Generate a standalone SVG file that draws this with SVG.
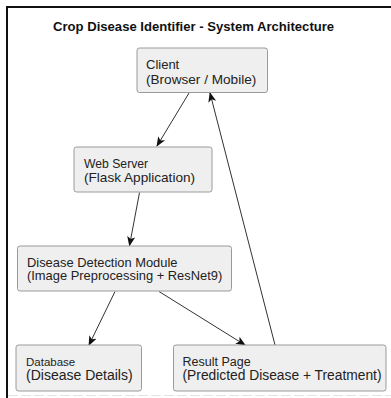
<svg xmlns="http://www.w3.org/2000/svg" width="391" height="398" viewBox="0 0 391 398">
<style>
.node rect{fill:#efefef;stroke:#9a9a9a;stroke-width:1}
.node text{font-family:"Liberation Sans",Arial,sans-serif;fill:#222}
.title{font-family:"Liberation Sans",Arial,sans-serif;font-weight:bold;font-size:13.1px;fill:#111}
.edge{stroke:#333;stroke-width:1;fill:none;marker-end:url(#ah)}
</style>
<defs>
<marker id="ah" viewBox="0 0 10 10" refX="9" refY="5" markerWidth="10" markerHeight="10" markerUnits="userSpaceOnUse" orient="auto">
<path d="M0,1 L10,5 L0,9 L2.5,5 Z" fill="#111"/>
</marker>
</defs>
<rect x="0" y="0" width="391" height="398" fill="#ffffff"/>
<path d="M7,398 V7 H391" fill="none" stroke="#111" stroke-width="2"/>
<line x1="8" y1="395.5" x2="391" y2="395.5" stroke="#e2e2e2" stroke-width="1" stroke-dasharray="10 3"/>
<text class="title" x="53" y="31">Crop Disease Identifier - System Architecture</text>
<g id="connectors">
<line class="edge" x1="189" y1="93" x2="157" y2="146"/>
<line class="edge" x1="139.5" y1="192.5" x2="129.5" y2="245.5"/>
<line class="edge" x1="115" y1="291.5" x2="89" y2="345"/>
<line class="edge" x1="159" y1="291.5" x2="245" y2="345"/>
<line class="edge" x1="275" y1="345" x2="210" y2="93"/>
</g>
<g id="client" class="node">
<rect x="137" y="48" width="130.5" height="44.5" rx="2.5"/>
<text x="146" y="69" font-size="13">Client</text>
<text x="146" y="83.5" font-size="13.6">(Browser / Mobile)</text>
</g>
<g id="webserver" class="node">
<rect x="74" y="147" width="138" height="45" rx="2.5"/>
<text x="84" y="167.5" font-size="12.2">Web Server</text>
<text x="84" y="182" font-size="13.6">(Flask Application)</text>
</g>
<g id="detection" class="node">
<rect x="17.5" y="246" width="214" height="45" rx="2.5"/>
<text x="27" y="266.5" font-size="12.9">Disease Detection Module</text>
<text x="27" y="280" font-size="12.9">(Image Preprocessing + ResNet9)</text>
</g>
<g id="database" class="node">
<rect x="16" y="345" width="125.5" height="46" rx="2.5"/>
<text x="26" y="366" font-size="11.5">Database</text>
<text x="26" y="380" font-size="14">(Disease Details)</text>
</g>
<g id="result" class="node">
<rect x="173.5" y="345" width="212.5" height="46" rx="2.5"/>
<text x="182.5" y="366" font-size="12.5">Result Page</text>
<text x="182.5" y="380" font-size="13.8">(Predicted Disease + Treatment)</text>
</g>
</svg>
